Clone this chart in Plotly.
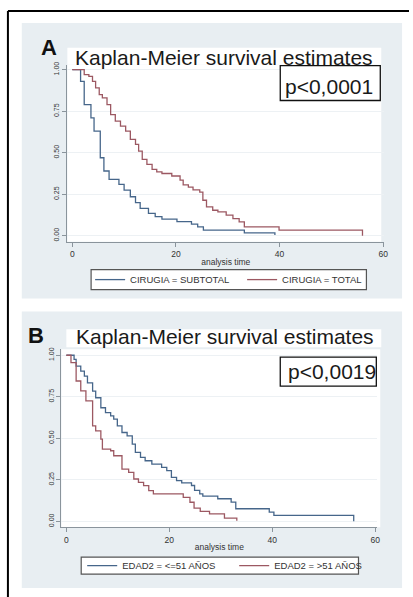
import plotly.graph_objects as go

W, H = 413, 597

# ---------------- data ----------------
a_sub_t = [0, 1.6, 2.3, 3.6, 4.2, 5.4, 6.1, 7.1, 9.0, 10.0, 11.2, 12.2, 13.1, 14.7, 16.0, 17.3,
           20.2, 23.0, 24.2, 25.3, 33.2, 39.1, 39.1]
a_sub_s = [1.0, 0.93, 0.79, 0.71, 0.63, 0.47, 0.39, 0.34, 0.31, 0.275, 0.235, 0.20, 0.165, 0.135,
           0.115, 0.10, 0.085, 0.07, 0.054, 0.034, 0.018, 0.018, 0.005]

a_tot_t = [0, 2.3, 3.2, 3.9, 4.5, 5.2, 5.8, 6.7, 7.4, 8.3, 9.3, 10.3, 11.2, 12.2, 12.8, 13.5, 14.4,
           15.4, 16.3, 17.3, 19.2, 20.8, 21.4, 22.4, 23.3, 24.6, 25.2, 25.9, 27.1, 28.1, 29.7, 31.0,
           32.2, 33.2, 39.9, 56.0, 56.0]
a_tot_s = [1.0, 0.97, 0.96, 0.93, 0.89, 0.85, 0.83, 0.79, 0.73, 0.69, 0.66, 0.63, 0.58, 0.55, 0.51,
           0.46, 0.43, 0.40, 0.385, 0.375, 0.36, 0.335, 0.307, 0.293, 0.277, 0.263, 0.214, 0.174,
           0.154, 0.144, 0.124, 0.104, 0.084, 0.054, 0.034, 0.034, 0.0]

b_young_t = [0, 1.5, 1.9, 2.8, 3.5, 4.1, 5.1, 5.7, 6.7, 7.6, 8.6, 9.2, 9.9, 10.8, 11.8, 12.8, 13.4,
             14.4, 15.3, 16.6, 18.5, 19.5, 20.4, 21.4, 22.4, 24.3, 24.9, 25.9, 26.5, 29.4, 32.0,
             32.9, 39.4, 40.3, 55.8, 55.8]
b_young_s = [1.0, 0.975, 0.934, 0.904, 0.874, 0.834, 0.784, 0.744, 0.684, 0.654, 0.635, 0.615,
             0.575, 0.535, 0.515, 0.465, 0.415, 0.385, 0.365, 0.345, 0.325, 0.305, 0.265, 0.245,
             0.232, 0.216, 0.186, 0.166, 0.152, 0.136, 0.116, 0.076, 0.056, 0.036, 0.036, 0.0]

b_old_t = [0, 0.9, 1.9, 2.8, 3.8, 5.1, 5.7, 6.7, 7.0, 8.6, 9.2, 10.8, 12.1, 13.1, 14.0, 15.0, 16.0,
           16.9, 22.7, 24.0, 24.8, 26.0, 27.8, 30.7, 33.1, 33.1]
b_old_s = [1.0, 0.955, 0.845, 0.785, 0.725, 0.575, 0.545, 0.495, 0.435, 0.425, 0.395, 0.315, 0.295,
           0.255, 0.235, 0.215, 0.185, 0.165, 0.145, 0.115, 0.08, 0.06, 0.045, 0.02, 0.02, 0.003]

x_ticks = [0, 20, 40, 60]
y_ticks = [0, 0.25, 0.5, 0.75, 1.0]
y_tick_text = ["0.00", "0.25", "0.50", "0.75", "1.00"]

title_txt = "Kaplan-Meier survival estimates"
p_a = "p<0,0001"
p_b = "p<0,0019"
name_a1, name_a2 = "CIRUGIA = SUBTOTAL", "CIRUGIA = TOTAL"
name_b1, name_b2 = "EDAD2 = <=51 AÑOS", "EDAD2 = >51 AÑOS"

# ---------------- style ----------------
BLUE = "#46668a"
RED = "#9c5862"
BG = "#e8eef2"
GRID = "#edf1f4"
AX = "#8a949c"
FONT = "Liberation Sans"


def fx(px):
    return px / W


def fy(py):
    return 1 - py / H


fig = go.Figure()
fig.add_trace(go.Scatter(x=a_sub_t, y=a_sub_s, mode="lines", line=dict(color=BLUE, width=1.3, shape="hv"),
                         name=name_a1, xaxis="x", yaxis="y", legend="legend"))
fig.add_trace(go.Scatter(x=a_tot_t, y=a_tot_s, mode="lines", line=dict(color=RED, width=1.3, shape="hv"),
                         name=name_a2, xaxis="x", yaxis="y", legend="legend"))
fig.add_trace(go.Scatter(x=b_young_t, y=b_young_s, mode="lines", line=dict(color=BLUE, width=1.3, shape="hv"),
                         name=name_b1, xaxis="x2", yaxis="y2", legend="legend2"))
fig.add_trace(go.Scatter(x=b_old_t, y=b_old_s, mode="lines", line=dict(color=RED, width=1.3, shape="hv"),
                         name=name_b2, xaxis="x2", yaxis="y2", legend="legend2"))

xa_common = dict(tickvals=x_ticks, showgrid=False, zeroline=False, showline=True, linecolor=AX,
                 linewidth=1.2, ticks="outside", ticklen=4, tickcolor=AX,
                 tickfont=dict(family=FONT, size=8.5, color="#333"),
                 title=dict(text="analysis time", font=dict(family=FONT, size=8.5, color="#333"), standoff=0))
ya_common = dict(tickvals=y_ticks, ticktext=y_tick_text, tickangle=-90, showgrid=True, gridcolor=GRID,
                 gridwidth=1, zeroline=False, showline=True, linecolor=AX, linewidth=1.2, ticks="outside",
                 ticklen=4, tickcolor=AX, tickfont=dict(family=FONT, size=7, color="#333"))

leg_common = dict(orientation="h", xanchor="left", yanchor="middle", bgcolor="rgba(0,0,0,0)",
                  borderwidth=0, font=dict(family=FONT, size=9.5, color="#333"),
                  itemwidth=30, tracegroupgap=0, entrywidth=107, entrywidthmode="pixels")

fig.update_layout(
    width=W, height=H, margin=dict(l=0, r=0, t=0, b=0),
    paper_bgcolor="white", plot_bgcolor="rgba(0,0,0,0)",
    xaxis=dict(domain=[fx(68), fx(388)], range=[-0.955, 60.2], anchor="y", **xa_common),
    yaxis=dict(domain=[fy(240), fy(62)], range=[-0.036, 1.03], anchor="x", **ya_common),
    xaxis2=dict(domain=[fx(62), fx(381)], range=[-0.96, 60.38], anchor="y2", **xa_common),
    yaxis2=dict(domain=[fy(527), fy(348)], range=[-0.036, 1.036], anchor="x2", **ya_common),
    legend=dict(x=fx(91), y=fy(278), **leg_common),
    legend2=dict(x=fx(83), y=fy(565.5), **leg_common),
    showlegend=True,
)

shapes = []
# outer frame
shapes.append(dict(type="line", xref="paper", yref="paper", x0=fx(8), x1=fx(413), y0=fy(8), y1=fy(8),
                   line=dict(color="black", width=2), layer="below"))
shapes.append(dict(type="line", xref="paper", yref="paper", x0=fx(8), x1=fx(8), y0=fy(8), y1=fy(597),
                   line=dict(color="black", width=2), layer="below"))
# panel backgrounds
for (x0, y0, x1, y1) in [(22, 20, 406, 297), (22, 310, 406, 588)]:
    shapes.append(dict(type="rect", xref="paper", yref="paper", x0=fx(x0), x1=fx(x1), y0=fy(y1), y1=fy(y0),
                       fillcolor=BG, line=dict(width=0), layer="below"))
# white plot regions and title boxes
for (x0, y0, x1, y1) in [(68, 62, 385, 240), (62, 348, 384, 527), (68, 45, 385, 62), (67, 328, 385, 346)]:
    shapes.append(dict(type="rect", xref="paper", yref="paper", x0=fx(x0), x1=fx(x1), y0=fy(y1), y1=fy(y0),
                       fillcolor="white", line=dict(width=0), layer="below"))
# legend frames
for (x0, y0, x1, y1) in [(92, 268, 370, 288), (82, 557, 362, 574)]:
    shapes.append(dict(type="rect", xref="paper", yref="paper", x0=fx(x0), x1=fx(x1), y0=fy(y1), y1=fy(y0),
                       fillcolor="white", line=dict(color="#555", width=1.2), layer="below"))
# p-value boxes
for (x0, y0, x1, y1) in [(283, 63, 384, 98), (283, 356, 380, 385)]:
    shapes.append(dict(type="rect", xref="paper", yref="paper", x0=fx(x0), x1=fx(x1), y0=fy(y1), y1=fy(y0),
                       fillcolor="white", line=dict(color="#111", width=1.3), layer="above"))
fig.update_layout(shapes=shapes)

ann = []
ann.append(dict(text="<b>A</b>", x=fx(49), y=fy(45), font=dict(family=FONT, size=22, color="#111")))
ann.append(dict(text="<b>B</b>", x=fx(36.5), y=fy(334.5), font=dict(family=FONT, size=22, color="#111")))
ann.append(dict(text=title_txt, x=fx(226.5), y=fy(54.5), font=dict(family=FONT, size=21, color="#1a1a1a")))
ann.append(dict(text=title_txt, x=fx(227), y=fy(335.5), font=dict(family=FONT, size=21, color="#1a1a1a")))
ann.append(dict(text=p_a, x=fx(332.5), y=fy(83.5), font=dict(family=FONT, size=21, color="#1a1a1a")))
ann.append(dict(text=p_b, x=fx(335), y=fy(370), font=dict(family=FONT, size=21, color="#1a1a1a")))
for a in ann:
    a.update(xref="paper", yref="paper", showarrow=False, xanchor="center", yanchor="middle")
fig.update_layout(annotations=ann)

fig.write_html("out.html", post_script="document.body.style.margin='0px';",
               config={"displayModeBar": False})
